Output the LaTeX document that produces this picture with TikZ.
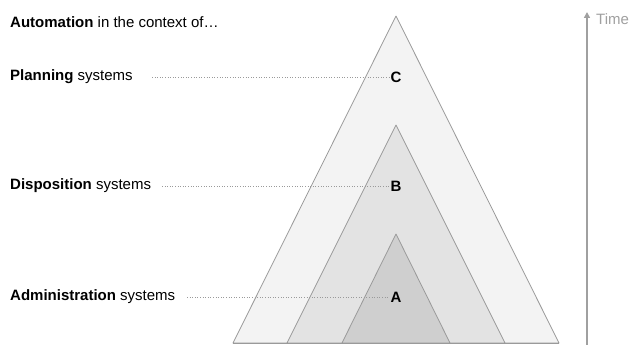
\documentclass[tikz,border=0pt]{standalone}
\usepackage{fontspec}
\setmainfont{Liberation Sans}
\usetikzlibrary{arrows.meta}
\definecolor{fillC}{HTML}{F3F3F3}
\definecolor{fillB}{HTML}{E3E3E3}
\definecolor{fillA}{HTML}{CFCFCF}
\definecolor{edge}{HTML}{9A9A9A}
\definecolor{timegray}{HTML}{A0A0A0}
\tikzset{
  tri/.style={draw=edge, line width=0.8pt, line join=round},
  lbl/.style={anchor=west, inner sep=0pt, font=\fontsize{15}{18}\selectfont},
  letter/.style={inner sep=1.5pt, font=\fontsize{15}{18}\selectfont\bfseries},
  guide/.style={draw=edge, line width=0.6pt, dotted},
}
\begin{document}
\begin{tikzpicture}[x=1pt,y=-1pt]
\useasboundingbox (0,0) rectangle (630,345);
% triangles
\filldraw[tri, fill=fillC] (233,343) -- (396,16) -- (559,343) -- cycle;
\filldraw[tri, fill=fillB] (287,343) -- (396,125) -- (505,343) -- cycle;
\filldraw[tri, fill=fillA] (342,343) -- (396,234) -- (450,343) -- cycle;
\draw[edge, line width=0.9pt] (233,343) -- (559,343);
% texts
\node[lbl] (title) at (10,22) {\textbf{Automation} in the context of…};
\node[lbl] (plan) at (10,77) {\textbf{Planning} systems};
\node[lbl] (disp) at (10,186) {\textbf{Disposition} systems};
\node[lbl] (admin) at (10,297) {\textbf{Administration} systems};
\node[letter] (C) at (396,77) {C};
\node[letter] (B) at (396,186) {B};
\node[letter] (A) at (396,297) {A};
\coordinate (pe) at (152,77);
\coordinate (de) at (162,186);
\coordinate (ae) at (187,297);
\draw[guide] (pe) -- (C.west);
\draw[guide] (de) -- (B.west);
\draw[guide] (ae) -- (A.west);
% time arrow
\coordinate (tb) at (587,345);
\coordinate (tt) at (587,12);
\draw[timegray, line width=2pt, -{Triangle[length=6pt,width=6pt]}] (tb) -- (tt);
\node[lbl, text=timegray] (time) at (596,19) {Time};
\end{tikzpicture}
\end{document}
